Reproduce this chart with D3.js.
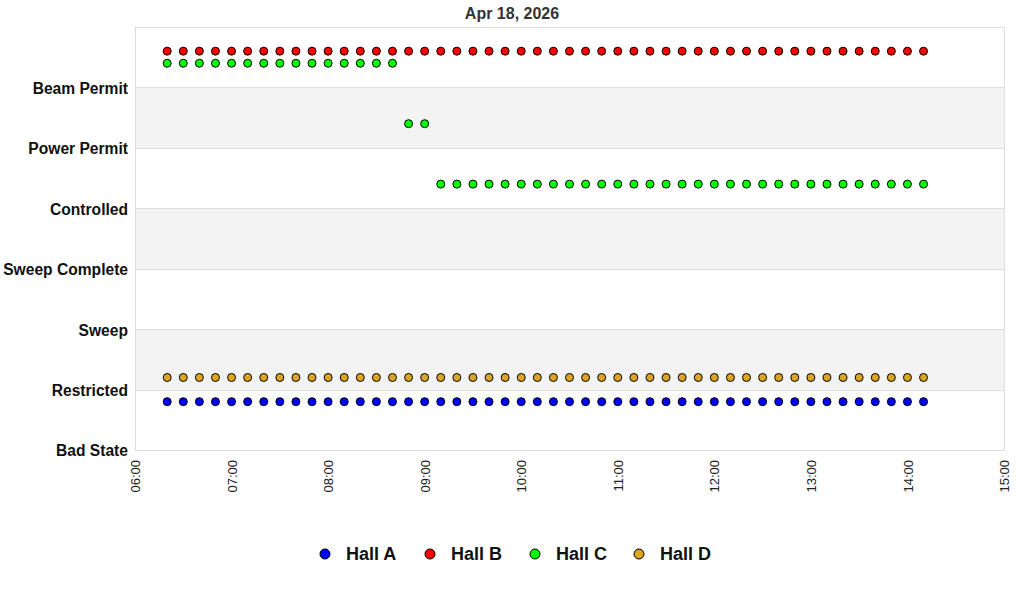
<!DOCTYPE html>
<html lang="en">
  <head>
    <meta charset="UTF-8" />
    <title>Hall States</title>
    <style>
      body {
        margin: 0;
        background: #fff;
        font-family: Arial, 'Liberation Sans', sans-serif;
      }
    </style>
  </head>
  <body>
    <svg id="svg" width="1024" height="600"></svg>

    <script src="https://d3js.org/d3.v7.min.js"></script>
    <script>
      const day = '2026-04-18';
      const title = 'Apr 18, 2026';
      const states = ['Bad State', 'Restricted', 'Sweep', 'Sweep Complete', 'Controlled', 'Power Permit', 'Beam Permit'];
      const halls = ['Hall A', 'Hall B', 'Hall C', 'Hall D'];
      const hallColors = ['#0000ff', '#ff0000', '#00ff00', '#daa520'];
      // little vertical shift so halls in the same state don't overlap
      const hallOffsets = [-0.2, 0.6, 0.4, 0.2];

      const times = [
        '06:20', '06:30', '06:40', '06:50', '07:00', '07:10', '07:20', '07:30', '07:40', '07:50',
        '08:00', '08:10', '08:20', '08:30', '08:40', '08:50', '09:00', '09:10', '09:20', '09:30',
        '09:40', '09:50', '10:00', '10:10', '10:20', '10:30', '10:40', '10:50', '11:00', '11:10',
        '11:20', '11:30', '11:40', '11:50', '12:00', '12:10', '12:20', '12:30', '12:40', '12:50',
        '13:00', '13:10', '13:20', '13:30', '13:40', '13:50', '14:00', '14:10'
      ];

      // state index (into states) for each time
      const hallA = [
        1, 1, 1, 1, 1, 1, 1, 1, 1, 1, 1, 1, 1, 1, 1, 1, 1, 1, 1, 1, 1, 1, 1, 1,
        1, 1, 1, 1, 1, 1, 1, 1, 1, 1, 1, 1, 1, 1, 1, 1, 1, 1, 1, 1, 1, 1, 1, 1
      ];
      const hallB = [
        6, 6, 6, 6, 6, 6, 6, 6, 6, 6, 6, 6, 6, 6, 6, 6, 6, 6, 6, 6, 6, 6, 6, 6,
        6, 6, 6, 6, 6, 6, 6, 6, 6, 6, 6, 6, 6, 6, 6, 6, 6, 6, 6, 6, 6, 6, 6, 6
      ];
      const hallC = [
        6, 6, 6, 6, 6, 6, 6, 6, 6, 6, 6, 6, 6, 6, 6, 5, 5, 4, 4, 4, 4, 4, 4, 4,
        4, 4, 4, 4, 4, 4, 4, 4, 4, 4, 4, 4, 4, 4, 4, 4, 4, 4, 4, 4, 4, 4, 4, 4
      ];
      const hallD = [
        1, 1, 1, 1, 1, 1, 1, 1, 1, 1, 1, 1, 1, 1, 1, 1, 1, 1, 1, 1, 1, 1, 1, 1,
        1, 1, 1, 1, 1, 1, 1, 1, 1, 1, 1, 1, 1, 1, 1, 1, 1, 1, 1, 1, 1, 1, 1, 1
      ];
      const hallSeries = [hallA, hallB, hallC, hallD];

      const plotLeft = 135, plotRight = 1004, plotTop = 27, plotBottom = 450;
      const svg = d3.select('#svg');
      const parse = d3.timeParse('%Y-%m-%d %H:%M');

      const x = d3.scaleTime()
        .domain([parse(day + ' 06:00'), parse(day + ' 15:00')])
        .range([plotLeft, plotRight]);
      const y = d3.scaleLinear().domain([0, 7]).range([plotBottom, plotTop]);

      // shaded bands
      svg.selectAll('rect.band')
        .data([1, 3, 5])
        .enter()
        .append('rect')
        .attr('x', plotLeft)
        .attr('y', (d) => y(d + 1))
        .attr('width', plotRight - plotLeft)
        .attr('height', (d) => y(d) - y(d + 1))
        .attr('fill', '#f3f3f3');

      // horizontal grid
      svg.selectAll('line.grid')
        .data(d3.range(1, 7))
        .enter()
        .append('line')
        .attr('x1', plotLeft)
        .attr('x2', plotRight)
        .attr('y1', (d) => Math.round(y(d)) + 0.5)
        .attr('y2', (d) => Math.round(y(d)) + 0.5)
        .attr('stroke', '#dddddd');

      svg.append('rect')
        .attr('x', plotLeft + 0.5)
        .attr('y', plotTop + 0.5)
        .attr('width', plotRight - plotLeft)
        .attr('height', plotBottom - plotTop)
        .attr('fill', 'none')
        .attr('stroke', '#dddddd');

      // y labels
      svg.selectAll('text.ylab')
        .data(states)
        .enter()
        .append('text')
        .attr('x', 128)
        .attr('y', (d, i) => y(i) + 1)
        .attr('dy', '0.35em')
        .attr('text-anchor', 'end')
        .attr('font-size', 15.6)
        .attr('font-weight', 'bold')
        .attr('fill', '#111')
        .text((d) => d);

      // x axis
      const xAxis = svg.append('g')
        .attr('transform', `translate(0,${plotBottom})`)
        .call(d3.axisBottom(x).ticks(d3.timeHour.every(1)).tickFormat(d3.timeFormat('%H:%M')).tickSize(0));
      xAxis.select('.domain').remove();
      xAxis.selectAll('text')
        .attr('transform', 'rotate(-90)')
        .attr('text-anchor', 'end')
        .attr('x', -10)
        .attr('y', 0)
        .attr('dy', '0.35em')
        .attr('font-size', 13)
        .attr('font-family', 'Arial, Liberation Sans, sans-serif')
        .attr('fill', '#222');

      // points
      hallSeries.forEach((series, h) => {
        svg.append('g')
          .selectAll('circle')
          .data(series)
          .enter()
          .append('circle')
          .attr('cx', (d, i) => x(parse(day + ' ' + times[i])))
          .attr('cy', (d) => y(d + hallOffsets[h]))
          .attr('r', 4)
          .attr('fill', hallColors[h])
          .attr('stroke', '#000')
          .attr('stroke-width', 1);
      });

      // title
      svg.append('text')
        .attr('x', 512)
        .attr('y', 19)
        .attr('text-anchor', 'middle')
        .attr('font-size', 16)
        .attr('font-weight', 'bold')
        .attr('fill', '#333')
        .text(title);

      // legend
      const legendX = [325, 430, 535, 639];
      const legend = svg.selectAll('g.legend')
        .data(halls)
        .enter()
        .append('g')
        .attr('transform', (d, i) => `translate(${legendX[i]},554)`);
      legend.append('circle')
        .attr('r', 5)
        .attr('fill', (d, i) => hallColors[i])
        .attr('stroke', '#000');
      legend.append('text')
        .attr('x', 21)
        .attr('dy', '0.35em')
        .attr('font-size', 18)
        .attr('font-weight', 'bold')
        .attr('fill', '#111')
        .text((d) => d);
    </script>
  </body>
</html>
